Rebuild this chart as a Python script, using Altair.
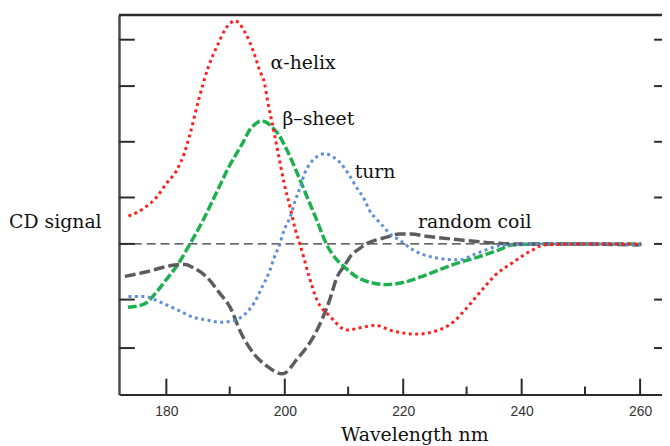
import altair as alt
import pandas as pd

# ---- data (wavelength in nm, CD signal in arbitrary units) ----
wl_helix = [173.6, 176.2, 178.3, 180.0, 181.7, 183.0, 184.0, 185.4, 187.0, 188.7,
            190.0, 190.9, 191.6, 192.2, 193.2, 194.9, 195.7, 196.6, 197.1, 197.9,
            198.9, 199.9, 200.9, 201.8, 202.6, 204.1, 205.4, 207.6, 210.5, 213.0,
            215.2, 218.3, 222.2, 225.5, 228.4, 230.5, 233.4, 235.6, 238.4, 241.8,
            243.9, 252.3, 260.2]
cd_helix = [0.54, 0.69, 0.90, 1.17, 1.42, 1.75, 2.13, 2.77, 3.40, 3.87,
            4.17, 4.29, 4.33, 4.29, 4.12, 3.67, 3.38, 3.10, 2.77, 2.33,
            1.75, 1.17, 0.71, 0.27, -0.02, -0.63, -1.08, -1.40, -1.67, -1.62,
            -1.58, -1.69, -1.75, -1.69, -1.52, -1.27, -0.88, -0.60, -0.37, -0.12,
            -0.02, 0.0, 0.0]

wl_sheet = [173.5, 176.2, 178.3, 180.0, 181.7, 183.9, 186.2, 188.4, 190.5, 192.9,
            194.2, 195.1, 195.9, 196.7, 197.6, 198.9, 200.4, 202.1, 203.8, 205.4,
            207.1, 208.8, 210.0, 212.6, 217.2, 220.0, 223.9, 228.4, 232.2, 236.1,
            238.4, 245.6, 252.3, 260.2]
cd_sheet = [-1.23, -1.17, -0.94, -0.69, -0.44, -0.02, 0.46, 0.98, 1.48, 1.96,
            2.23, 2.33, 2.38, 2.37, 2.29, 2.13, 1.81, 1.37, 0.90, 0.46,
            -0.02, -0.31, -0.44, -0.67, -0.79, -0.75, -0.60, -0.40, -0.27, -0.12,
            -0.02, 0.0, 0.0, 0.0]

wl_turn = [173.6, 176.2, 178.8, 181.7, 184.5, 187.0, 189.0, 190.9, 193.2, 194.9,
           196.2, 197.4, 198.2, 199.1, 199.9, 200.9, 201.8, 202.6, 203.4, 204.3,
           205.4, 206.8, 208.1, 209.3, 210.8, 212.1, 213.5, 214.3, 215.5, 216.7,
           218.0, 219.3, 221.7, 225.5, 229.4, 232.7, 237.2, 245.6, 252.3, 260.2]
cd_turn = [-1.02, -1.02, -1.12, -1.27, -1.42, -1.48, -1.52, -1.50, -1.37, -1.13,
           -0.83, -0.54, -0.27, -0.02, 0.27, 0.52, 0.85, 1.10, 1.38, 1.56,
           1.69, 1.75, 1.69, 1.58, 1.35, 1.10, 0.85, 0.65, 0.48, 0.33,
           0.17, 0.08, -0.12, -0.27, -0.31, -0.17, -0.02, 0.0, 0.0, -0.02]

wl_coil = [173.0, 176.7, 180.0, 182.2, 183.2, 184.5, 186.7, 188.9, 191.2, 192.1,
           194.2, 197.1, 199.6, 202.1, 204.9, 207.6, 208.8, 210.1, 211.3, 212.5,
           214.1, 215.5, 217.2, 219.3, 221.3, 223.9, 229.4, 235.1, 238.4, 245.6,
           259.8]
cd_coil = [-0.63, -0.54, -0.44, -0.40, -0.40, -0.46, -0.63, -0.94, -1.33, -1.60,
           -2.04, -2.38, -2.52, -2.23, -1.79, -1.08, -0.65, -0.42, -0.21, -0.10,
           0.02, 0.08, 0.13, 0.19, 0.19, 0.15, 0.08, 0.02, 0.0, 0.0,
           -0.02]

label_text = ["α-helix", "β–sheet", "turn", "random coil"]
label_wl = [197.6, 199.6, 211.8, 222.5]
label_cd = [3.40, 2.31, 1.27, 0.31]

x_major = [180, 200, 220, 240, 260]
x_minor = [190.7, 210.7, 230.7, 250.7]
y_ticks = [3.96, 3.06, 1.98, 0.90, 0.0, -1.08, -2.02]
x_domain = [172.0, 263.7]
y_domain = [-2.92, 4.44]
zero_line_wl = [172.0, 261.0]

W, H = 548, 383
SERIF = "DejaVu Serif"
FRAME = "#2b2b2b"

xs = alt.Scale(domain=x_domain, nice=False, zero=False)
ys = alt.Scale(domain=y_domain, nice=False, zero=False)

x_axis = alt.Axis(values=x_major, format="d", domain=True, domainColor=FRAME,
                  domainWidth=2, ticks=False, tickSize=0, grid=False,
                  labelFont="Liberation Sans", labelFontSize=14, labelColor="#333333",
                  labelPadding=10, labelFlush=False,
                  title="Wavelength nm", titleFont=SERIF, titleFontSize=19,
                  titleFontWeight="normal", titleColor="#111111",
                  titleX=298, titleY=46, titleAlign="center", titleBaseline="alphabetic")
y_axis = alt.Axis(values=y_ticks, domain=True, domainColor="#4a4a4a", domainWidth=2.5,
                  ticks=False, tickSize=0, labels=False, grid=False,
                  title="CD signal", titleFont=SERIF, titleFontSize=19,
                  titleFontWeight="normal", titleColor="#111111", titleAngle=0,
                  titleX=-18, titleY=215, titleAlign="right", titleBaseline="alphabetic")

X = alt.X("wl:Q", scale=xs, axis=x_axis)
Y = alt.Y("cd:Q", scale=ys, axis=y_axis)


def curve(wl, cd, color, dash, width):
    df = pd.DataFrame({"wl": wl, "cd": cd})
    return alt.Chart(df).mark_line(color=color, strokeDash=dash, strokeWidth=width,
                                   interpolate="monotone", clip=True).encode(x=X, y=Y)


zero_df = pd.DataFrame({"wl": [zero_line_wl[0]], "wl2": [zero_line_wl[1]], "cd": [0.0]})
zero_line = alt.Chart(zero_df).mark_rule(color="#333333", strokeWidth=1.2,
                                         strokeDash=[9, 5]).encode(
    x=X, x2="wl2:Q", y=Y)

top_df = pd.DataFrame({"wl": [x_domain[0]], "wl2": [x_domain[1]]})
top_line = alt.Chart(top_df).mark_rule(color=FRAME, strokeWidth=2.5).encode(
    x=X, x2="wl2:Q", y=alt.value(0))

major_df = pd.DataFrame({"wl": x_major})
major_ticks = alt.Chart(major_df).mark_rule(color=FRAME, strokeWidth=2).encode(
    x=X, y=alt.value(H), y2=alt.value(H - 16))
minor_df = pd.DataFrame({"wl": x_minor})
minor_ticks = alt.Chart(minor_df).mark_rule(color=FRAME, strokeWidth=2).encode(
    x=X, y=alt.value(H), y2=alt.value(H - 8))

yt_df = pd.DataFrame({"cd": y_ticks})
left_ticks = alt.Chart(yt_df).mark_rule(color=FRAME, strokeWidth=2).encode(
    y=Y, x=alt.value(0), x2=alt.value(16))
right_ticks = alt.Chart(yt_df).mark_rule(color=FRAME, strokeWidth=2).encode(
    y=Y, x=alt.value(W - 8), x2=alt.value(W))

lab_df = pd.DataFrame({"wl": label_wl, "cd": label_cd, "t": label_text})
labels = alt.Chart(lab_df).mark_text(align="left", baseline="alphabetic", font=SERIF,
                                     fontSize=19, color="#111111").encode(
    x=X, y=Y, text="t:N")

chart = alt.layer(
    zero_line,
    curve(wl_sheet, cd_sheet, "#1cb04e", [9, 3], 3.5),
    curve(wl_coil, cd_coil, "#5c5c5c", [11, 4], 3.5),
    curve(wl_turn, cd_turn, "#5b8ed6", [3, 3.5], 3),
    curve(wl_helix, cd_helix, "#ff1e1e", [3, 3.5], 3),
    top_line, major_ticks, minor_ticks, left_ticks, right_ticks, labels,
).properties(
    width=W, height=H,
    autosize=alt.AutoSizeParams(type="none"),
    padding={"left": 112, "top": 5, "right": 0, "bottom": 50},
    background="white",
).configure_view(stroke=None)

chart.save("out.html", embed_options={"renderer": "svg", "actions": False})
